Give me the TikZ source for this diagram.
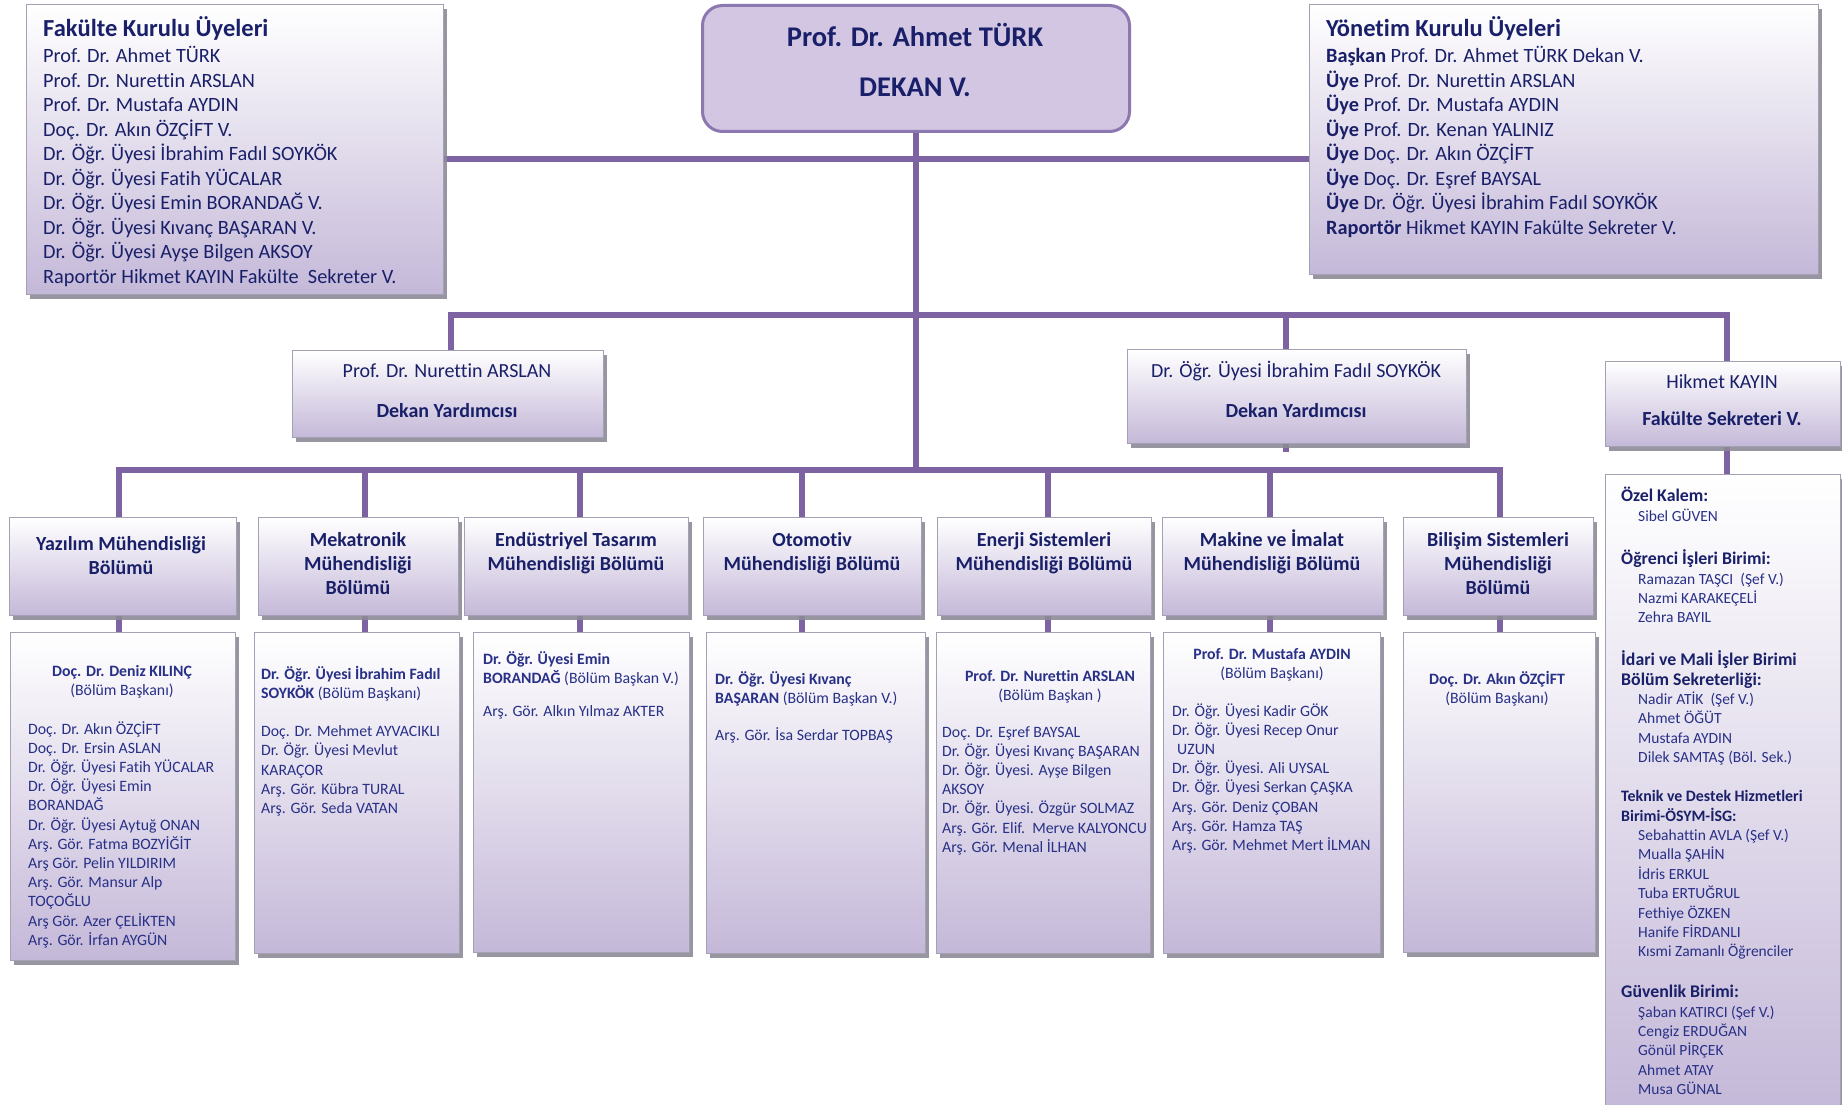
\documentclass[tikz,border=0pt]{standalone}
\usepackage{fontspec}
\setmainfont{Carlito}[Ligatures={NoCommon}]
\usetikzlibrary{shadows,backgrounds}
\definecolor{lnp}{RGB}{126,99,162}
\definecolor{bordc}{RGB}{165,160,180}
\definecolor{lavb}{RGB}{196,184,216}
\definecolor{shadc}{RGB}{140,138,150}
\definecolor{navy}{RGB}{25,32,105}
\definecolor{bodyc}{RGB}{40,48,135}
\definecolor{dekf}{RGB}{210,198,226}
\definecolor{dekb}{RGB}{140,120,176}
\newcommand\fstr{\rule{0pt}{1em}}
\begin{document}
\begin{tikzpicture}[x=1pt,y=-1pt,
  box/.style={draw=bordc, line width=1.2pt, top color=white, bottom color=lavb,
    drop shadow={shadow xshift=3pt, shadow yshift=-4pt, fill=shadc, opacity=0.9},
    inner sep=0pt, anchor=north west},
  conn/.style={draw=lnp, line width=5.5pt},
  hd/.style={font=\fontsize{24.5}{28}\selectfont\bfseries, text=navy, inner sep=0pt, anchor=north west},
  bl/.style={font=\fontsize{20.3}{24.5}\selectfont, text=navy, inner sep=0pt, anchor=north west, align=left},
  mid/.style={font=\fontsize{20}{40}\selectfont, text=navy, inner sep=0pt, anchor=north, align=center},
  ttl/.style={font=\fontsize{20}{24}\selectfont\bfseries, text=navy, inner sep=0pt, anchor=north, align=center},
  stf/.style={font=\fontsize{15.8}{19.2}\selectfont, text=bodyc, inner sep=0pt, anchor=north west, align=left},
  stc/.style={font=\fontsize{15.8}{19.2}\selectfont, text=bodyc, inner sep=0pt, anchor=north, align=center},
  grp/.style={font=\fontsize{15.5}{19.4}\selectfont, text=bodyc, inner sep=0pt, anchor=north west, align=left}
]
\useasboundingbox (0,0) rectangle (1842,1105);

% ---------- boxes ----------
\node[box, minimum width=417pt, minimum height=290pt] (fak) at (26,4) {};
\node[draw=dekb, line width=3pt, fill=dekf, rounded corners=20pt, anchor=north west,
      minimum width=427pt, minimum height=126pt, inner sep=0pt] (dekan) at (701,4) {};
\node[box, minimum width=509pt, minimum height=270pt] (yon) at (1309,4) {};
\node[box, minimum width=311pt, minimum height=87pt] (nur) at (292,350) {};
\node[box, minimum width=339pt, minimum height=94pt] (soy) at (1127,349) {};
\node[box, minimum width=235pt, minimum height=85pt] (hik) at (1605,361) {};

\node[box, minimum width=227pt, minimum height=98pt] (d1) at (9,517) {};
\node[box, minimum width=200pt, minimum height=98pt] (d2) at (258,517) {};
\node[box, minimum width=224pt, minimum height=98pt] (d3) at (464,517) {};
\node[box, minimum width=218pt, minimum height=98pt] (d4) at (703,517) {};
\node[box, minimum width=214pt, minimum height=98pt] (d5) at (937,517) {};
\node[box, minimum width=221pt, minimum height=98pt] (d6) at (1162,517) {};
\node[box, minimum width=190pt, minimum height=98pt] (d7) at (1403,517) {};

\node[box, minimum width=225pt, minimum height=328pt] (s1) at (10,632) {};
\node[box, minimum width=205pt, minimum height=321pt] (s2) at (254,632) {};
\node[box, minimum width=216pt, minimum height=320pt] (s3) at (473,632) {};
\node[box, minimum width=219pt, minimum height=321pt] (s4) at (706,632) {};
\node[box, minimum width=214pt, minimum height=321pt] (s5) at (936,632) {};
\node[box, minimum width=217pt, minimum height=321pt] (s6) at (1163,632) {};
\node[box, minimum width=192pt, minimum height=320pt] (s7) at (1403,632) {};
\node[box, minimum width=235pt, minimum height=640pt] (ozel) at (1605,474) {};

% ---------- connectors ----------
\coordinate (b1) at (0,159);
\coordinate (b2) at (0,315);
\coordinate (b3) at (0,470);
\coordinate (pn) at (451,315);
\coordinate (ps) at (1286,315);
\coordinate (ph) at (1727,315);
\coordinate (soystub) at (1286,452);
\coordinate (p1) at (119,470);
\coordinate (p2) at (365,470);
\coordinate (p3) at (580,470);
\coordinate (p4) at (802,470);
\coordinate (p5) at (1048,470);
\coordinate (p6) at (1270,470);
\coordinate (p7) at (1500,470);
\begin{scope}[on background layer]
\fill[white] (0,0) rectangle (1842,1105);
\draw[conn] (fak.east |- b1) -- (yon.west |- b1);
\draw[conn] (dekan.south) -- (dekan.south |- b3);
\draw[conn] (pn |- nur.north) -- (pn) -- (ph) -- (ph |- hik.north);
\draw[conn] (ps) -- (ps |- soy.north);
\draw[conn] (ps |- soy.south) -- (soystub);
\draw[conn] (ph |- hik.south) -- (ph |- ozel.north);
\draw[conn] (p1 |- d1.north) -- (p1) -- (p7) -- (p7 |- d7.north);
\foreach \p/\d in {p2/d2,p3/d3,p4/d4,p5/d5,p6/d6} {\draw[conn] (\p) -- (\p |- \d.north);}
\foreach \p/\d/\s in {p1/d1/s1,p2/d2/s2,p3/d3/s3,p4/d4/s4,p5/d5/s5,p6/d6/s6,p7/d7/s7} {\draw[conn] (\p |- \d.south) -- (\p |- \s.north);}
\end{scope}

% ---------- texts ----------
\node[hd] (fakh) at (43,12) {\fstr Fakülte Kurulu Üyeleri};
\node[bl] (fakb) at (43,42) {\fstr Prof. Dr. Ahmet TÜRK\\Prof. Dr. Nurettin ARSLAN\\Prof. Dr. Mustafa AYDIN\\Doç. Dr. Akın ÖZÇİFT V.\\Dr. Öğr. Üyesi İbrahim Fadıl SOYKÖK\\Dr. Öğr. Üyesi Fatih YÜCALAR\\Dr. Öğr. Üyesi Emin BORANDAĞ V.\\Dr. Öğr. Üyesi Kıvanç BAŞARAN V.\\Dr. Öğr. Üyesi Ayşe Bilgen AKSOY\\Raportör Hikmet KAYIN Fakülte\ \ Sekreter V.};

\node[font=\fontsize{28.5}{50}\selectfont\bfseries, text=navy, inner sep=0pt, anchor=north, align=center] (dekt) at (915,18) {\fstr Prof. Dr. Ahmet TÜRK\\DEKAN V.};

\node[hd] (yonh) at (1326,12) {\fstr Yönetim Kurulu Üyeleri};
\node[bl] (yonb) at (1326,42) {\fstr\textbf{Başkan} Prof. Dr. Ahmet TÜRK Dekan V.\\\textbf{Üye} Prof. Dr. Nurettin ARSLAN\\\textbf{Üye} Prof. Dr. Mustafa AYDIN\\\textbf{Üye} Prof. Dr. Kenan YALINIZ\\\textbf{Üye} Doç. Dr. Akın ÖZÇİFT\\\textbf{Üye} Doç. Dr. Eşref BAYSAL\\\textbf{Üye} Dr. Öğr. Üyesi İbrahim Fadıl SOYKÖK\\\textbf{Raportör} Hikmet KAYIN Fakülte Sekreter V.};

\node[mid] (nurt) at (447,357) {\fstr Prof. Dr. Nurettin ARSLAN\\\textbf{Dekan Yardımcısı}};
\node[mid] (soyt) at (1296,357) {\fstr Dr. Öğr. Üyesi İbrahim Fadıl SOYKÖK\\\textbf{Dekan Yardımcısı}};
\node[mid, font=\fontsize{20}{37}\selectfont] (hikt) at (1722,368) {\fstr Hikmet KAYIN\\\textbf{Fakülte Sekreteri V.}};

\node[ttl] (d1t) at (121,530) {\fstr Yazılım Mühendisliği\\Bölümü};
\node[ttl] (d2t) at (358,526) {\fstr Mekatronik\\Mühendisliği\\Bölümü};
\node[ttl] (d3t) at (576,526) {\fstr Endüstriyel Tasarım\\Mühendisliği Bölümü};
\node[ttl] (d4t) at (812,526) {\fstr Otomotiv\\Mühendisliği Bölümü};
\node[ttl] (d5t) at (1044,526) {\fstr Enerji Sistemleri\\Mühendisliği Bölümü};
\node[ttl] (d6t) at (1272,526) {\fstr Makine ve İmalat\\Mühendisliği Bölümü};
\node[ttl] (d7t) at (1498,526) {\fstr Bilişim Sistemleri\\Mühendisliği\\Bölümü};

\node[stc] (s1h) at (122,660) {\fstr\textbf{Doç. Dr. Deniz KILINÇ}\\(Bölüm Başkanı)};
\node[stf] (s1b) at (28,718) {\fstr Doç. Dr. Akın ÖZÇİFT\\Doç. Dr. Ersin ASLAN\\Dr. Öğr. Üyesi Fatih YÜCALAR\\Dr. Öğr. Üyesi Emin\\BORANDAĞ\\Dr. Öğr. Üyesi Aytuğ ONAN\\Arş. Gör. Fatma BOZYİĞİT\\Arş Gör. Pelin YILDIRIM\\Arş. Gör. Mansur Alp\\TOÇOĞLU\\Arş Gör. Azer ÇELİKTEN\\Arş. Gör. İrfan AYGÜN};

\node[stf] (s2b) at (261,663) {\fstr\textbf{Dr. Öğr. Üyesi İbrahim Fadıl}\\\textbf{SOYKÖK} (Bölüm Başkanı)\\[19.2pt]Doç. Dr. Mehmet AYVACIKLI\\Dr. Öğr. Üyesi Mevlut\\KARAÇOR\\Arş. Gör. Kübra TURAL\\Arş. Gör. Seda VATAN};

\node[stf] (s3b) at (483,648) {\fstr\textbf{Dr. Öğr. Üyesi Emin}\\\textbf{BORANDAĞ} (Bölüm Başkan V.)\\[14pt]Arş. Gör. Alkın Yılmaz AKTER};

\node[stf] (s4b) at (715,668) {\fstr\textbf{Dr. Öğr. Üyesi Kıvanç}\\\textbf{BAŞARAN} (Bölüm Başkan V.)\\[18pt]Arş. Gör. İsa Serdar TOPBAŞ};

\node[stc] (s5h) at (1050,665) {\fstr\textbf{Prof. Dr. Nurettin ARSLAN}\\(Bölüm Başkan )};
\node[stf] (s5b) at (942,721) {\fstr Doç. Dr. Eşref BAYSAL\\Dr. Öğr. Üyesi Kıvanç BAŞARAN\\Dr. Öğr. Üyesi. Ayşe Bilgen\\AKSOY\\Dr. Öğr. Üyesi. Özgür SOLMAZ\\Arş. Gör. Elif.\ \ Merve KALYONCU\\Arş. Gör. Menal İLHAN};

\node[stc] (s6h) at (1272,643) {\fstr\textbf{Prof. Dr. Mustafa AYDIN}\\(Bölüm Başkanı)};
\node[stf] (s6b) at (1172,700) {\fstr Dr. Öğr. Üyesi Kadir GÖK\\Dr. Öğr. Üyesi Recep Onur\\\hspace{5pt}UZUN\\Dr. Öğr. Üyesi. Ali UYSAL\\Dr. Öğr. Üyesi Serkan ÇAŞKA\\Arş. Gör. Deniz ÇOBAN\\Arş. Gör. Hamza TAŞ\\Arş. Gör. Mehmet Mert İLMAN};

\node[stc] (s7h) at (1497,668) {\fstr\textbf{Doç. Dr. Akın ÖZÇİFT}\\(Bölüm Başkanı)};

\node[grp] (g1) at (1621,486) {\fstr{\fontsize{17.8}{19.4}\selectfont\bfseries\color{navy}Özel Kalem:}\\\hspace{17pt}Sibel GÜVEN};
\node[grp] (g2) at (1621,549) {\fstr{\fontsize{17.8}{19.4}\selectfont\bfseries\color{navy}Öğrenci İşleri Birimi:}\\\hspace{17pt}Ramazan TAŞCI\ \ (Şef V.)\\\hspace{17pt}Nazmi KARAKEÇELİ\\\hspace{17pt}Zehra BAYIL};
\node[grp] (g3) at (1621,650) {\fstr{\fontsize{17.8}{19.4}\selectfont\bfseries\color{navy}İdari ve Mali İşler Birimi}\\{\fontsize{17.8}{19.4}\selectfont\bfseries\color{navy}Bölüm Sekreterliği:}\\\hspace{17pt}Nadir ATİK\ \ (Şef V.)\\\hspace{17pt}Ahmet ÖĞÜT\\\hspace{17pt}Mustafa AYDIN\\\hspace{17pt}Dilek SAMTAŞ (Böl. Sek.)};
\node[grp] (g4) at (1621,786) {\fstr{\fontsize{15.9}{19.4}\selectfont\bfseries\color{navy}Teknik ve Destek Hizmetleri}\\{\fontsize{15.9}{19.4}\selectfont\bfseries\color{navy}Birimi-ÖSYM-İSG:}\\\hspace{17pt}Sebahattin AVLA (Şef V.)\\\hspace{17pt}Mualla ŞAHİN\\\hspace{17pt}İdris ERKUL\\\hspace{17pt}Tuba ERTUĞRUL\\\hspace{17pt}Fethiye ÖZKEN\\\hspace{17pt}Hanife FİRDANLI\\\hspace{17pt}Kısmi Zamanlı Öğrenciler};
\node[grp] (g5) at (1621,982) {\fstr{\fontsize{17.8}{19.4}\selectfont\bfseries\color{navy}Güvenlik Birimi:}\\\hspace{17pt}Şaban KATIRCI (Şef V.)\\\hspace{17pt}Cengiz ERDUĞAN\\\hspace{17pt}Gönül PİRÇEK\\\hspace{17pt}Ahmet ATAY\\\hspace{17pt}Musa GÜNAL};
\end{tikzpicture}
\end{document}
